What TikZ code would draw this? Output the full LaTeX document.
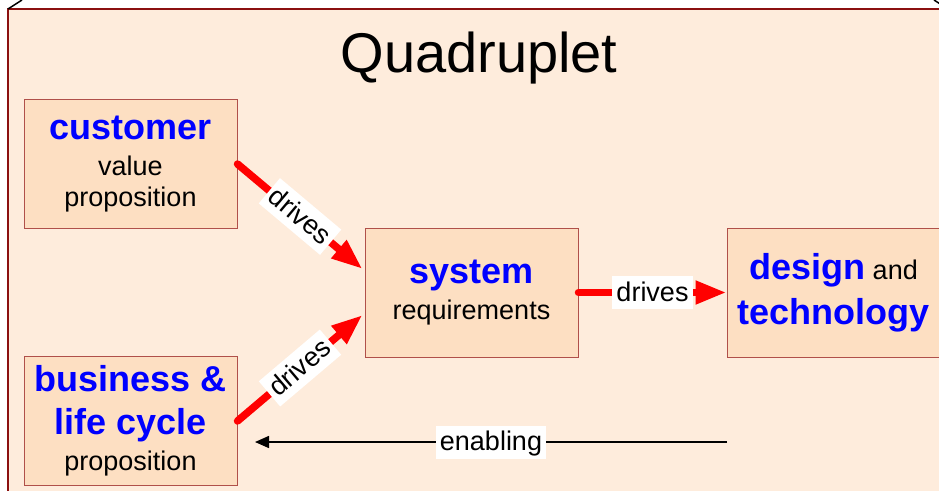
\documentclass[tikz,border=0pt]{standalone}
\usepackage{fontspec}
\setmainfont{Liberation Sans}
\usetikzlibrary{arrows.meta,calc}
\definecolor{panelfill}{HTML}{FEECDC}
\definecolor{panelline}{HTML}{8B1010}
\definecolor{boxfill}{HTML}{FDDFC2}
\definecolor{boxline}{HTML}{B0504A}
\newcommand{\keyw}[1]{{\fontsize{36}{42}\selectfont\bfseries\color{blue}#1}}
\tikzset{
  box/.style={shape=rectangle,draw=boxline,line width=1pt,fill=boxfill,
    minimum width=213pt,minimum height=129pt,inner sep=0pt,align=center,
    font=\fontsize{27}{31}\selectfont},
  drive/.style={draw=red,line width=7.5pt,line cap=round,
    -{Triangle[length=31pt,width=22pt]}},
  lab/.style={fill=white,inner xsep=4pt,inner ysep=4pt,text height=21pt,
    text depth=4pt,font=\fontsize{27}{31}\selectfont}
}
\begin{document}
\begin{tikzpicture}[x=1pt,y=-1pt]
\useasboundingbox (0,0) rectangle (939,490);
\fill[white] (0,0) rectangle (939,490);
\draw[panelline,line width=2pt,fill=panelfill] (8,9) rectangle (955,500);
\draw[line width=1.5pt] (8,9) -- (22,0);
\draw[line width=1.5pt] (948,9) -- (934,0);
\node(title) at (479,72)[anchor=base,font=\fontsize{56}{60}\selectfont] {Quadruplet};
\node(customer) at (130.5,164)[box]  {\keyw{customer}\\[5pt] value\\ proposition};
\node(business) at (130.5,421)[box]  {\keyw{business \&}\\[12pt] \keyw{life cycle}\\[5pt] proposition};
\node(system) at (471.5,292.5)[box]  {\keyw{system}\\[5pt] requirements};
\node(design) at (833.5,292.5)[box]  {\keyw{design} and\\[10pt] \keyw{technology}};
\coordinate(sysin1) at ($(system.west)+(-2,-23.5)$);
\coordinate(sysin2) at ($(system.west)+(-2,22.5)$);
\coordinate(enabfrom) at (727,442);
\coordinate(enabto) at (255,442);
\path
  (customer.east)  edge [drive]  node [lab,sloped]  {drives}  (sysin1)
  (business.east)  edge [drive]  node [lab,sloped]  {drives}  (sysin2)
  (system.east)    edge [drive]  node [lab]         {drives}  (design.west);
\draw [line width=1.5pt,-{Triangle[length=14pt,width=12pt]}]
  (enabfrom) -- node [lab] {enabling} (enabto);
\end{tikzpicture}
\end{document}
